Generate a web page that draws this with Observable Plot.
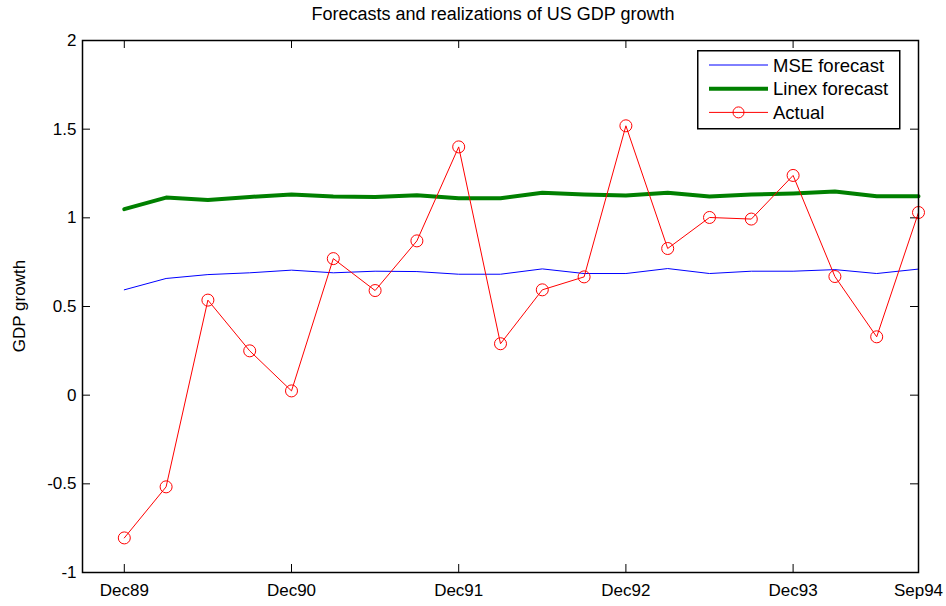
<!DOCTYPE html>
<html>
<head>
<meta charset="utf-8">
<script src="https://cdn.jsdelivr.net/npm/d3@7"></script>
<script src="https://cdn.jsdelivr.net/npm/@observablehq/plot@0.6"></script>
<style>
  html, body { margin: 0; padding: 0; background: #fff; }
  #wrap { position: relative; width: 946px; height: 606px; font-family: "Liberation Sans", Arial, sans-serif; color: #000; }
  #title { position: absolute; left: 0; width: 986px; top: 4px; text-align: center; font-size: 18px; white-space: nowrap; }
  #ylabel { position: absolute; left: 20px; top: 306px; transform: translate(-50%, -50%) rotate(-90deg); font-size: 17px; white-space: nowrap; }
  #legend { position: absolute; left: 697px; top: 50px; }
</style>
</head>
<body>
<div id="wrap">
  <div id="chart"></div>
  <div id="title">Forecasts and realizations of US GDP growth</div>
  <div id="ylabel">GDP growth</div>
  <div id="legend"></div>
</div>
<script>
// ---- data ----
const quarters = ["Dec89","Mar90","Jun90","Sep90","Dec90","Mar91","Jun91","Sep91","Dec91","Mar92",
                  "Jun92","Sep92","Dec92","Mar93","Jun93","Sep93","Dec93","Mar94","Jun94","Sep94"];
const mseForecast = [0.594, 0.658, 0.680, 0.690, 0.705, 0.690, 0.699, 0.697, 0.682, 0.682,
                     0.712, 0.686, 0.686, 0.714, 0.686, 0.699, 0.699, 0.708, 0.686, 0.711];
const linexForecast = [1.049, 1.114, 1.100, 1.118, 1.131, 1.120, 1.118, 1.128, 1.111, 1.111,
                       1.141, 1.131, 1.126, 1.141, 1.120, 1.131, 1.137, 1.148, 1.122, 1.122];
const actual = [-0.805, -0.517, 0.536, 0.250, 0.024, 0.770, 0.590, 0.870, 1.400, 0.290,
                0.594, 0.667, 1.519, 0.827, 1.002, 0.993, 1.239, 0.669, 0.329, 1.030];
const xTickLabels = ["Dec89","Dec90","Dec91","Dec92","Dec93","Sep94"];
const yTicks = [-1, -0.5, 0, 0.5, 1, 1.5, 2];
const seriesNames = ["MSE forecast", "Linex forecast", "Actual"];

// ---- build ----
const rows = quarters.map((q, i) => ({i, q, mse: mseForecast[i], linex: linexForecast[i], actual: actual[i]}));
const xTicks = xTickLabels.map(l => quarters.indexOf(l));

const W = 946, H = 606, mL = 82, mR = 28, mT = 40, mB = 34;
const plotW = W - mL - mR, plotH = H - mT - mB;
const tickLen = 8;

const chart = Plot.plot({
  width: W, height: H,
  marginLeft: mL, marginRight: mR, marginTop: mT, marginBottom: mB,
  style: {fontFamily: '"Liberation Sans", Arial, sans-serif', fontSize: "17px", color: "#000", background: "#fff"},
  x: {domain: [-1, quarters.length - 1]},
  y: {domain: [-1, 2]},
  marks: [
    Plot.axisX({ticks: xTicks, tickFormat: i => quarters[i], tickSize: 0, tickPadding: 11, fontSize: 17, label: null}),
    Plot.axisY({ticks: yTicks, tickFormat: d => String(d), tickSize: 0, tickPadding: 6, fontSize: 17, label: null}),
    Plot.tickX(xTicks, {x: d => d, insetTop: plotH - tickLen, stroke: "#000", strokeWidth: 1}),
    Plot.tickX(xTicks, {x: d => d, insetBottom: plotH - tickLen, stroke: "#000", strokeWidth: 1}),
    Plot.tickY(yTicks, {y: d => d, insetRight: plotW - tickLen, stroke: "#000", strokeWidth: 1}),
    Plot.tickY(yTicks, {y: d => d, insetLeft: plotW - tickLen, stroke: "#000", strokeWidth: 1}),
    Plot.line(rows, {x: "i", y: "mse", stroke: "#0000ff", strokeWidth: 1}),
    Plot.line(rows, {x: "i", y: "linex", stroke: "#008000", strokeWidth: 4}),
    Plot.line(rows, {x: "i", y: "actual", stroke: "#ff0000", strokeWidth: 1}),
    Plot.dot(rows, {x: "i", y: "actual", r: 6, stroke: "#ff0000", fill: "none", strokeWidth: 1}),
    Plot.frame({stroke: "#000", strokeWidth: 1.5})
  ]
});
document.getElementById("chart").appendChild(chart);

// ---- legend ----
const styles = [
  {color: "#0000ff", width: 1, marker: false},
  {color: "#008000", width: 4, marker: false},
  {color: "#ff0000", width: 1, marker: true}
];
const lw = 202, lh = 78;
const lsvg = d3.create("svg").attr("width", lw + 2).attr("height", lh + 2)
  .style("font-family", '"Liberation Sans", Arial, sans-serif').style("font-size", "18.5px");
lsvg.append("rect").attr("x", 0.75).attr("y", 0.75).attr("width", lw).attr("height", lh)
  .attr("fill", "#fff").attr("stroke", "#000").attr("stroke-width", 1.5);
seriesNames.forEach((name, k) => {
  const cy = 15 + k * 23.7;
  const s = styles[k];
  lsvg.append("line").attr("x1", 12).attr("x2", 71).attr("y1", cy).attr("y2", cy)
    .attr("stroke", s.color).attr("stroke-width", s.width);
  if (s.marker) lsvg.append("circle").attr("cx", 41.5).attr("cy", cy).attr("r", 5.5)
    .attr("fill", "none").attr("stroke", s.color);
  lsvg.append("text").attr("x", 76).attr("y", cy + 6.5).text(name);
});
document.getElementById("legend").appendChild(lsvg.node());
</script>
</body>
</html>
